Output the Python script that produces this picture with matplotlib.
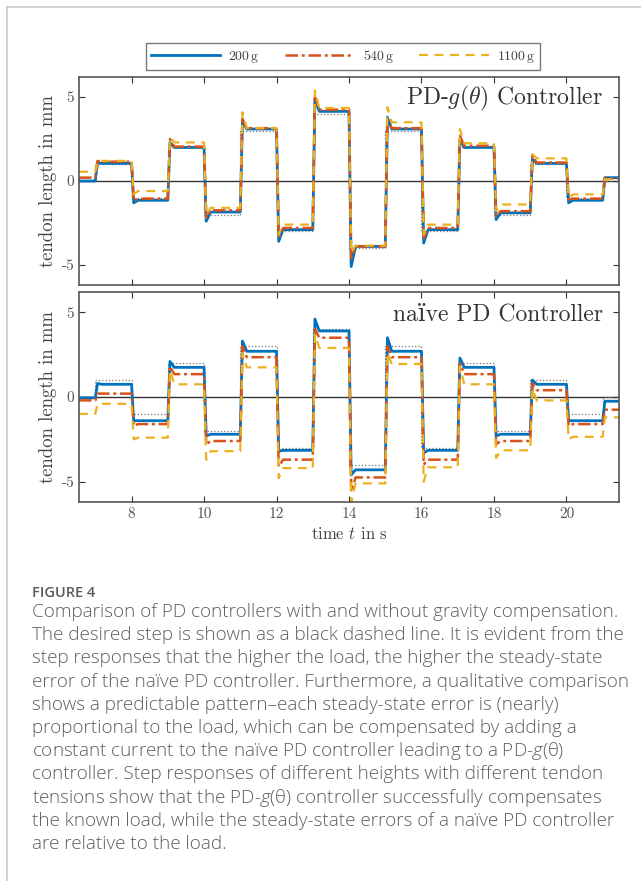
import numpy as np
import matplotlib
matplotlib.use("Agg")
import matplotlib.pyplot as plt
from matplotlib.lines import Line2D

plt.rcParams["font.family"] = "serif"
plt.rcParams["font.serif"] = ["cmr10"]
plt.rcParams["mathtext.fontset"] = "cm"
plt.rcParams["axes.unicode_minus"] = False

# step times and desired set points (segments before/after each step)
step_times = [7, 8, 9, 10, 11, 12, 13, 14, 15, 16, 17, 18, 19, 20, 21]
desired = [0, 1, -1, 2, -2, 3, -3, 4, -4, 3, -3, 2, -2, 1, -1, 0]

# PD-g(theta) controller: settled levels per segment and peak right after each step
top_200 = [0.0, 1.05, -1.15, 2.0, -1.85, 3.1, -2.9, 4.15, -3.9, 3.1, -2.9, 2.0, -1.9, 1.05, -1.15, 0.2]
top_540 = [0.2, 1.15, -1.05, 2.05, -1.75, 3.15, -2.8, 4.25, -3.9, 3.15, -2.8, 2.1, -1.8, 1.1, -1.05, 0.15]
top_1100 = [0.55, 1.2, -0.6, 2.3, -1.6, 3.15, -2.6, 4.35, -3.85, 3.5, -2.6, 2.25, -1.4, 1.35, -0.8, 0.1]
top_200_pk = [1.1, -1.3, 2.3, -2.4, 3.6, -3.6, 4.9, -5.1, 3.8, -3.7, 2.5, -2.3, 1.3, -1.3, 0.2]
top_540_pk = [1.2, -1.2, 2.5, -2.2, 3.7, -3.4, 5.0, -4.6, 3.6, -3.4, 2.7, -2.1, 1.5, -1.1, 0.2]
top_1100_pk = [1.2, -0.8, 2.6, -2.0, 4.1, -3.2, 5.4, -4.3, 4.4, -3.2, 3.1, -1.8, 1.6, -1.0, 0.1]

# naive PD controller
bot_200 = [-0.05, 0.75, -1.4, 1.75, -2.2, 2.7, -3.15, 3.9, -4.3, 2.7, -3.15, 1.75, -2.2, 0.75, -1.4, -0.25]
bot_540 = [-0.2, 0.2, -1.6, 1.35, -2.6, 2.35, -3.7, 3.5, -4.75, 2.35, -3.7, 1.35, -2.6, 0.4, -1.6, -0.75]
bot_1100 = [-1.0, -0.4, -2.4, 0.75, -3.2, 1.75, -4.2, 2.9, -5.1, 1.95, -4.15, 0.75, -3.15, -0.2, -2.35, -1.2]
bot_200_pk = [0.8, -1.4, 2.1, -2.3, 3.3, -3.2, 4.6, -4.6, 3.5, -3.3, 2.3, -2.3, 1.0, -1.4, -0.25]
bot_540_pk = [0.2, -1.7, 1.8, -2.8, 3.0, -4.1, 4.0, -5.6, 3.0, -4.0, 2.0, -2.8, 0.8, -1.7, -0.75]
bot_1100_pk = [-0.4, -2.5, 1.6, -3.7, 2.6, -4.8, 3.7, -6.2, 2.6, -5.0, 1.8, -3.6, 0.5, -2.5, -1.2]

loads = ["200$\\,$g", "540$\\,$g", "1100$\\,$g"]
colors = ["#0072BD", "#D95319", "#EDB120"]
styles = [dict(ls="-", lw=2.0), dict(ls=(0, (5, 1.5, 1.2, 1.5)), lw=1.8), dict(ls=(0, (4, 3)), lw=1.6)]

xlim = (6.55, 21.45)


def trace(levels, peaks):
    t = [xlim[0]]
    y = [levels[0]]
    for k, ts in enumerate(step_times):
        t += [ts, ts + 0.06, ts + 0.18]
        y += [levels[k], peaks[k], levels[k + 1]]
    t.append(xlim[1])
    y.append(levels[-1])
    return t, y


def desired_trace():
    t = [xlim[0]]
    y = [desired[0]]
    for k, ts in enumerate(step_times):
        t += [ts, ts]
        y += [desired[k], desired[k + 1]]
    t.append(xlim[1])
    y.append(desired[-1])
    return t, y


fig = plt.figure(figsize=(6.41, 8.81), dpi=100)
ax1 = fig.add_axes([79 / 641, 1 - 285 / 881, 540 / 641, 208 / 881])
ax2 = fig.add_axes([79 / 641, 1 - 502 / 881, 540 / 641, 210 / 881])

panels = [
    (ax1, [top_200, top_540, top_1100], [top_200_pk, top_540_pk, top_1100_pk], "PD-$g(\\theta)$ Controller"),
    (ax2, [bot_200, bot_540, bot_1100], [bot_200_pk, bot_540_pk, bot_1100_pk], "na\u00efve PD Controller"),
]

for ax, lvls, pks, title in panels:
    ax.axhline(0, color="#333333", lw=1.0, zorder=1)
    dt, dy = desired_trace()
    ax.plot(dt, dy, color="#777777", ls=":", lw=0.9, zorder=1.5)
    for lv, pk, c, st in zip(lvls, pks, colors, styles):
        t, y = trace(lv, pk)
        ax.plot(t, y, color=c, zorder=2, **st)
    ax.set_xlim(*xlim)
    ax.set_ylim(-6.2, 6.2)
    ax.set_xticks([8, 10, 12, 14, 16, 18, 20])
    ax.set_yticks([-5, 0, 5])
    ax.set_yticklabels(["-5", "0", "5"])
    ax.tick_params(direction="in", top=True, right=True, length=4, width=0.8,
                   labelsize=11, colors="#333333", labelcolor="#555555")
    for sp in ax.spines.values():
        sp.set_color("#555555")
        sp.set_linewidth(1.2)
    ax.set_ylabel("tendon length in mm", fontsize=13.5, color="#444444", labelpad=3)
    ax.text(0.97, 0.895, title, transform=ax.transAxes, ha="right", va="center",
            fontsize=17, color="#333333", family=["cmr10", "DejaVu Serif"])

ax1.tick_params(labelbottom=False)
ax2.set_xlabel("time $t$ in s", fontsize=12, color="#444444", labelpad=4)

handles = [Line2D([], [], color=c, **st) for c, st in zip(colors, styles)]
fig.legend(handles, loads, loc="center", bbox_to_anchor=(343 / 641, 1 - 56.5 / 881),
           ncol=3, fontsize=10, handlelength=5.0, handletextpad=0.6, columnspacing=1.8,
           frameon=True, fancybox=False, edgecolor="#555555", borderpad=0.35,
           labelcolor="#444444")

# page frame
fig.add_artist(Line2D([7 / 641, 7 / 641], [0, 1 - 7 / 881], color="#c8c8c8", lw=1.2))
fig.add_artist(Line2D([7 / 641, 1], [1 - 7 / 881, 1 - 7 / 881], color="#c8c8c8", lw=1.2))

# caption
caption = [
    "Comparison of PD controllers with and without gravity compensation.",
    "The desired step is shown as a black dashed line. It is evident from the",
    "step responses that the higher the load, the higher the steady-state",
    "error of the na\u00efve PD controller. Furthermore, a qualitative comparison",
    "shows a predictable pattern\u2013each steady-state error is (nearly)",
    "proportional to the load, which can be compensated by adding a",
    "constant current to the na\u00efve PD controller leading to a PD-$g$(\u03b8)",
    "controller. Step responses of different heights with different tendon",
    "tensions show that the PD-$g$(\u03b8) controller successfully compensates",
    "the known load, while the steady-state errors of a na\u00efve PD controller",
    "are relative to the load.",
]
fig.text(32 / 641, 1 - 593 / 881, "FIGURE 4", fontsize=10.5, color="#5a5a5a",
         family="Open Sans", weight="semibold", va="center")
cap_kw = dict(fontsize=13.55, color="#5e5e5e", family="Open Sans", weight="light", va="center")
plt.rcParams["mathtext.fontset"] = "custom"
plt.rcParams["mathtext.it"] = "Open Sans:italic:light"
plt.rcParams["mathtext.rm"] = "Open Sans:light"
for i, line in enumerate(caption):
    fig.text(32 / 641, 1 - (612 + 23.2 * i) / 881, line, **cap_kw)

fig.savefig("out.png", dpi=100)
